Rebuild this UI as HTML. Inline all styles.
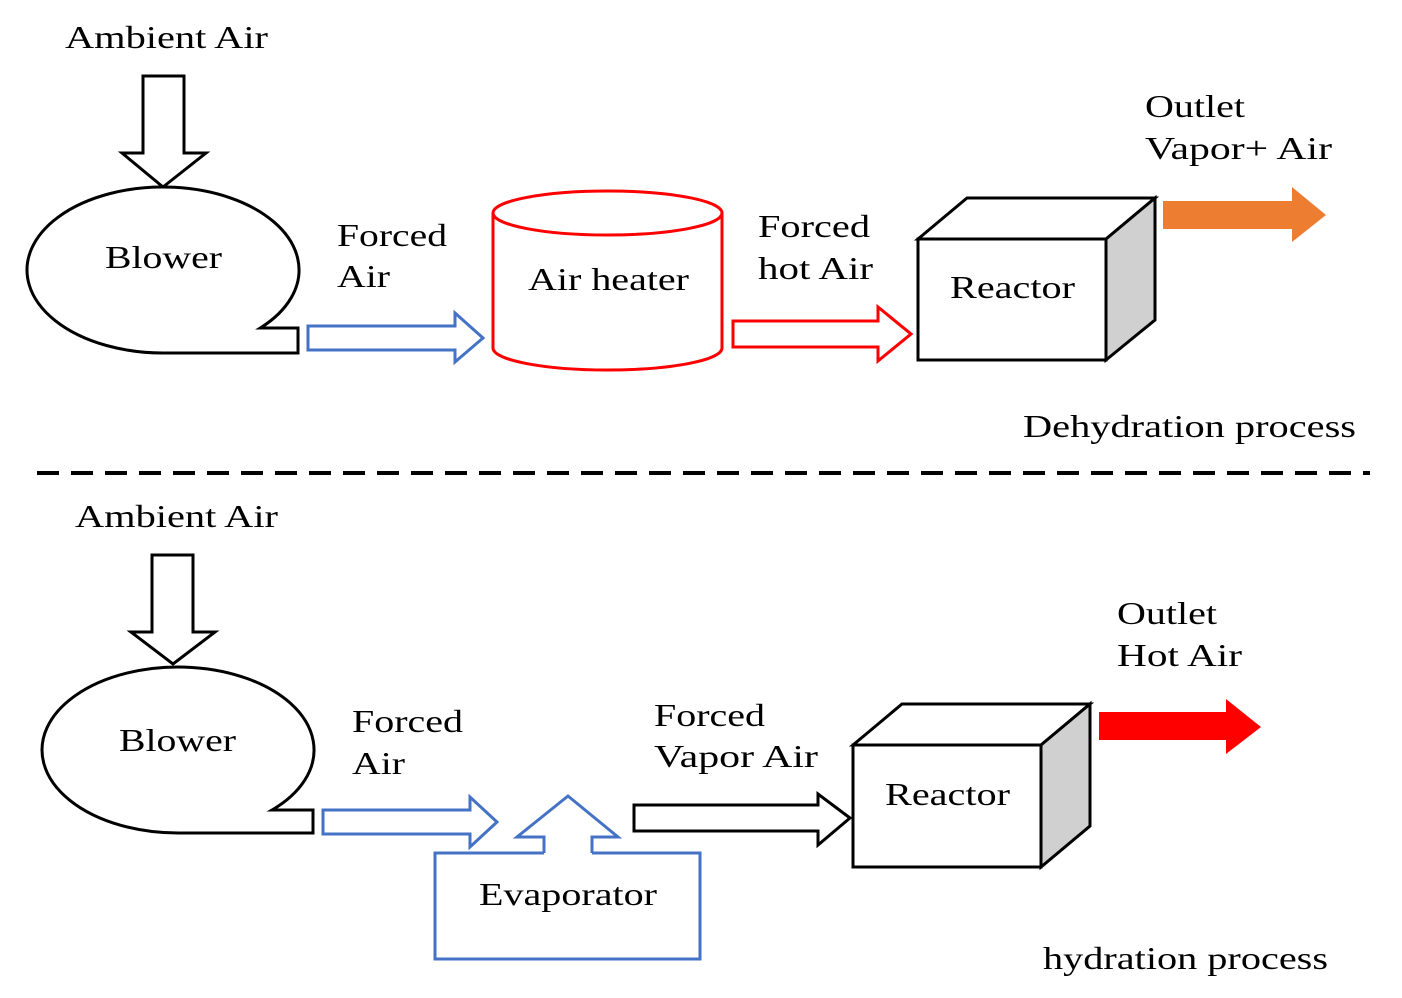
<!DOCTYPE html>
<html><head><meta charset="utf-8"><style>
html,body{margin:0;padding:0;background:#fff;}
svg{display:block;}
text{font-family:"Liberation Serif",serif;font-size:32px;fill:#000;}
</style></head><body>
<svg width="1402" height="998" viewBox="0 0 1402 998" xmlns="http://www.w3.org/2000/svg">
<g fill="#fff" stroke-width="3" stroke-linejoin="miter">
<!-- top -->
<path d="M143,76 L184,76 L184,153 L206,153 L163,187 L122,153 L143,153 Z" stroke="#000"/>
<path d="M260.3,328 A136,83 0 1 0 163,353 L298,353 L298,328 Z" stroke="#000"/>
<path d="M308,326 L455,326 L455,313 L483,338 L455,362 L455,350 L308,350 Z" stroke="#4472C4"/>
<path d="M493,213 L493,348 A114.5,22 0 0 0 722,348 L722,213" stroke="#FF0000"/>
<ellipse cx="607.5" cy="213" rx="114.5" ry="22" stroke="#FF0000"/>
<path d="M733,321 L878,321 L878,307 L911,334 L878,361 L878,347 L733,347 Z" stroke="#FF0000"/>
<rect x="918" y="239" width="188" height="121" stroke="#000"/>
<path d="M918,239 L967,198 L1155,198 L1106,239 Z" stroke="#000"/>
<path d="M1106,239 L1155,198 L1155,320 L1106,360 Z" fill="#D0D0D0" stroke="#000"/>
<path d="M1163,201 L1292,201 L1292,187 L1326,215 L1292,242 L1292,229 L1163,229 Z" fill="#ED7D31" stroke="none"/>
<!-- bottom -->
<path d="M152,555 L193,555 L193,632 L215,632 L173,664 L131,632 L152,632 Z" stroke="#000"/>
<path d="M272,810 A136,83 0 1 0 178,833 L313,833 L313,810 Z" stroke="#000"/>
<path d="M323,810 L470,810 L470,797 L497,822 L470,847 L470,834 L323,834 Z" stroke="#4472C4"/>
<path d="M544,853 L544,837 L517,837 L568,796 L618,837 L592,837 L592,853" stroke="#4472C4"/>
<path d="M544,853 L435,853 L435,959 L700,959 L700,853 L592,853" stroke="#4472C4"/>
<path d="M634,805 L818,805 L818,794 L850,818 L818,845 L818,831 L634,831 Z" stroke="#000"/>
<rect x="853" y="745" width="188" height="122" stroke="#000"/>
<path d="M853,745 L902,704 L1090,704 L1041,745 Z" stroke="#000"/>
<path d="M1041,745 L1090,704 L1090,826 L1041,867 Z" fill="#D0D0D0" stroke="#000"/>
<path d="M1099,712 L1226,712 L1226,699 L1261,727 L1226,754 L1226,740 L1099,740 Z" fill="#FF0000" stroke="none"/>
</g>
<line x1="37" y1="473" x2="1370" y2="473" stroke="#000" stroke-width="4" stroke-dasharray="22,12"/>
<text x="65" y="48" textLength="203" lengthAdjust="spacingAndGlyphs">Ambient Air</text>
<text x="105" y="268" textLength="117" lengthAdjust="spacingAndGlyphs">Blower</text>
<text x="337" y="246" textLength="110" lengthAdjust="spacingAndGlyphs">Forced</text>
<text x="337" y="287" textLength="53" lengthAdjust="spacingAndGlyphs">Air</text>
<text x="528" y="290" textLength="161" lengthAdjust="spacingAndGlyphs">Air heater</text>
<text x="758" y="237" textLength="112" lengthAdjust="spacingAndGlyphs">Forced</text>
<text x="758" y="279" textLength="115" lengthAdjust="spacingAndGlyphs">hot Air</text>
<text x="950" y="298" textLength="125" lengthAdjust="spacingAndGlyphs">Reactor</text>
<text x="1145" y="117" textLength="100" lengthAdjust="spacingAndGlyphs">Outlet</text>
<text x="1145" y="159" textLength="187" lengthAdjust="spacingAndGlyphs">Vapor+ Air</text>
<text x="1023" y="437" textLength="333" lengthAdjust="spacingAndGlyphs">Dehydration process</text>
<text x="75" y="527" textLength="203" lengthAdjust="spacingAndGlyphs">Ambient Air</text>
<text x="119" y="751" textLength="117" lengthAdjust="spacingAndGlyphs">Blower</text>
<text x="352" y="732" textLength="111" lengthAdjust="spacingAndGlyphs">Forced</text>
<text x="352" y="774" textLength="53" lengthAdjust="spacingAndGlyphs">Air</text>
<text x="654" y="726" textLength="111" lengthAdjust="spacingAndGlyphs">Forced</text>
<text x="654" y="767" textLength="164" lengthAdjust="spacingAndGlyphs">Vapor Air</text>
<text x="885" y="805" textLength="125" lengthAdjust="spacingAndGlyphs">Reactor</text>
<text x="1117" y="624" textLength="100" lengthAdjust="spacingAndGlyphs">Outlet</text>
<text x="1117" y="666" textLength="125" lengthAdjust="spacingAndGlyphs">Hot Air</text>
<text x="479" y="905" textLength="178" lengthAdjust="spacingAndGlyphs">Evaporator</text>
<text x="1043" y="969" textLength="285" lengthAdjust="spacingAndGlyphs">hydration process</text>
</svg>
</body></html>
